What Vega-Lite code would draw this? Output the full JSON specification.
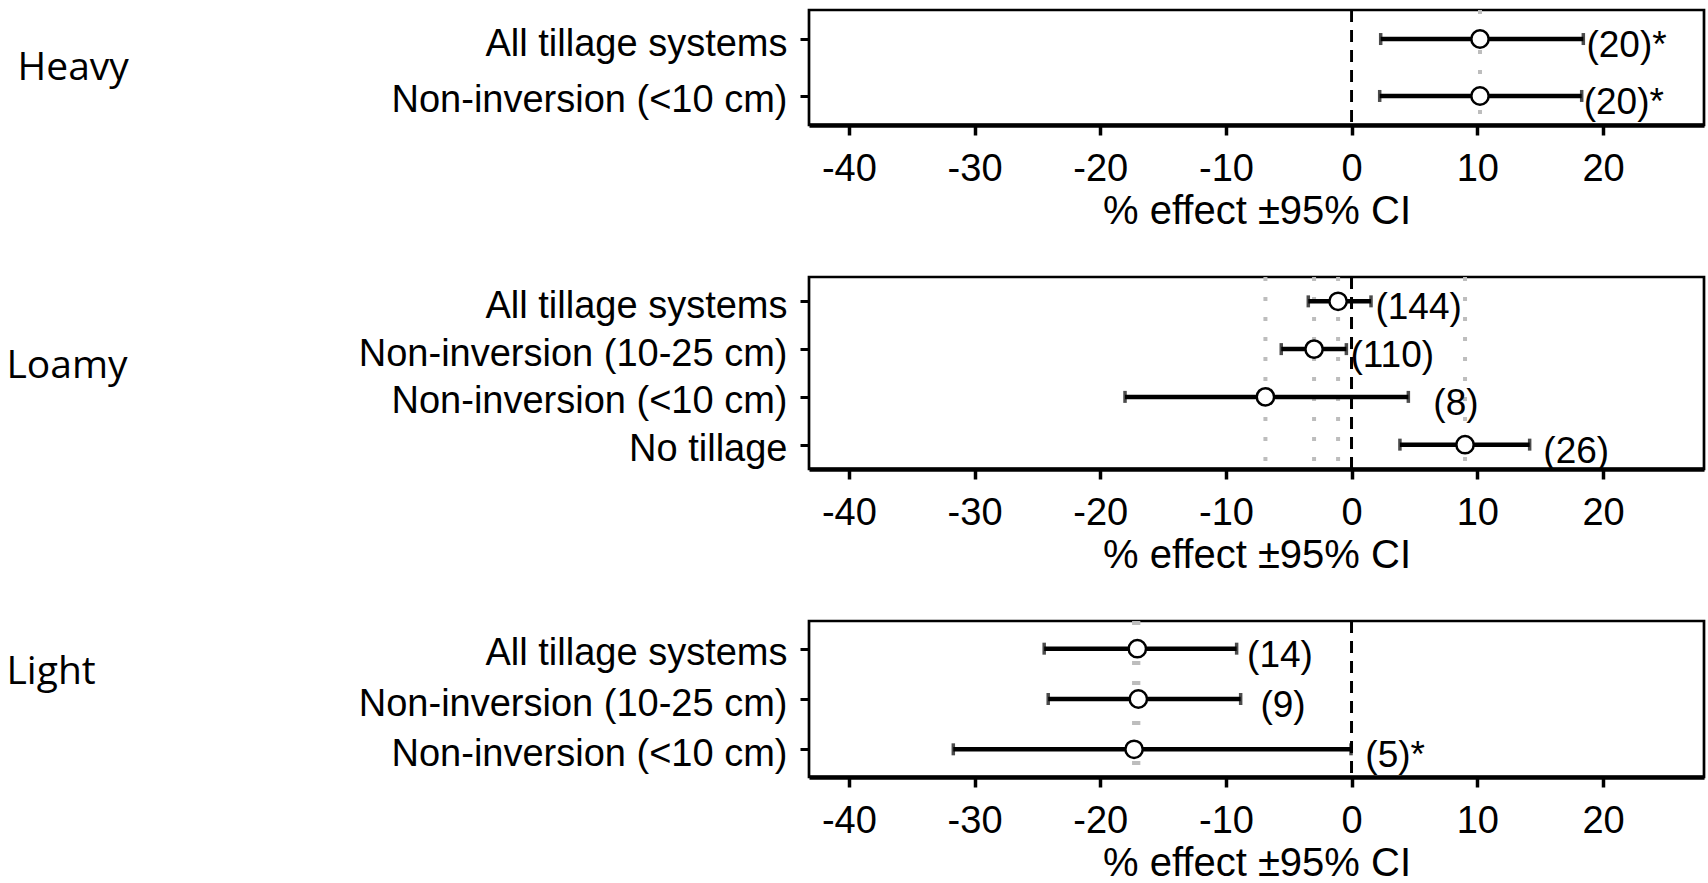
{
  "$schema": "https://vega.github.io/schema/vega-lite/v6.json",
  "background": "white",
  "padding": {"left": 4, "top": 6, "right": 0, "bottom": 0},
  "spacing": 40,
  "datasets": {
    "rows": [
      {"group": "Heavy", "system": "All tillage systems", "est": 10.21, "lo": 2.31, "hi": 18.43, "n": "(20)*", "label_x": 18.68},
      {"group": "Heavy", "system": "Non-inversion (<10 cm)", "est": 10.21, "lo": 2.23, "hi": 18.3, "n": "(20)*", "label_x": 18.46},
      {"group": "Loamy", "system": "All tillage systems", "est": -1.08, "lo": -3.45, "hi": 1.54, "n": "(144)", "label_x": 1.89},
      {"group": "Loamy", "system": "Non-inversion (10-25 cm)", "est": -2.99, "lo": -5.6, "hi": -0.42, "n": "(110)", "label_x": -0.1},
      {"group": "Loamy", "system": "Non-inversion (<10 cm)", "est": -6.86, "lo": -18.03, "hi": 4.51, "n": "(8)", "label_x": 6.5},
      {"group": "Loamy", "system": "No tillage", "est": 9.02, "lo": 3.84, "hi": 14.16, "n": "(26)", "label_x": 15.25},
      {"group": "Light", "system": "All tillage systems", "est": -17.05, "lo": -24.46, "hi": -9.15, "n": "(14)", "label_x": -8.32},
      {"group": "Light", "system": "Non-inversion (10-25 cm)", "est": -16.97, "lo": -24.14, "hi": -8.83, "n": "(9)", "label_x": -7.26},
      {"group": "Light", "system": "Non-inversion (<10 cm)", "est": -17.31, "lo": -31.69, "hi": -0.05, "n": "(5)*", "label_x": 1.09}
    ]
  },
  "config": {
    "view": {"stroke": "black", "strokeWidth": 2.7},
    "axis": {"grid": false, "labelColor": "black", "titleColor": "black", "tickColor": "black", "domainColor": "black", "labelFont": "Liberation Sans", "titleFont": "Liberation Sans", "titleFontWeight": "normal"},
    "axisX": {"labelFontSize": 38, "labelPadding": 15, "tickSize": 10, "tickWidth": 3.5, "domainWidth": 4.5, "titleFontSize": 40, "titlePadding": 3, "labelExpr": "replace(datum.label, '−', '-')"},
    "axisY": {"labelFontSize": 38, "labelPadding": 13, "tickSize": 9, "tickWidth": 3, "domain": false, "labelOffset": 5, "labelLimit": 0, "titleAngle": 0, "titleAlign": "left", "titleBaseline": "alphabetic", "titleFont": "Open Sans", "titleFontSize": 39, "titleLimit": 500}
  },
  "vconcat": [
    {
      "width": 895, "height": 115,
      "data": {"name": "rows"},
      "transform": [{"filter": "datum.group === 'Heavy'"}],
      "layer": [
        {"mark": {"type": "rule", "color": "#bdbdbd", "strokeWidth": 4, "strokeDash": [4, 16]},
         "encoding": {"x": {"field": "est", "type": "quantitative", "scale": {"domain": [-43.17, 28.03], "nice": false, "zero": false}, "axis": {"values": [-40, -30, -20, -10, 0, 10, 20], "title": "% effect ±95% CI"}}}},
        {"mark": {"type": "rule", "color": "black", "strokeWidth": 2.7, "strokeDash": [12, 8]},
         "encoding": {"x": {"datum": 0, "type": "quantitative", "scale": {"domain": [-43.17, 28.03], "nice": false, "zero": false}, "axis": {"values": [-40, -30, -20, -10, 0, 10, 20], "title": "% effect ±95% CI"}}}},
        {"mark": {"type": "rule", "color": "black", "strokeWidth": 4.5},
         "encoding": {"x": {"field": "lo", "type": "quantitative", "scale": {"domain": [-43.17, 28.03], "nice": false, "zero": false}, "axis": {"values": [-40, -30, -20, -10, 0, 10, 20], "title": "% effect ±95% CI"}}, "x2": {"field": "hi"},
           "y": {"field": "system", "type": "nominal", "sort": ["All tillage systems", "Non-inversion (<10 cm)"], "scale": {"type": "point", "padding": 0.51}, "axis": {"title": "Heavy", "titleX": -792, "titleY": 69}}}},
        {"mark": {"type": "tick", "color": "black", "size": 12, "thickness": 3.5},
         "encoding": {"x": {"field": "lo", "type": "quantitative", "scale": {"domain": [-43.17, 28.03], "nice": false, "zero": false}, "axis": {"values": [-40, -30, -20, -10, 0, 10, 20], "title": "% effect ±95% CI"}},
           "y": {"field": "system", "type": "nominal", "sort": ["All tillage systems", "Non-inversion (<10 cm)"]}}},
        {"mark": {"type": "tick", "color": "black", "size": 12, "thickness": 3.5},
         "encoding": {"x": {"field": "hi", "type": "quantitative", "scale": {"domain": [-43.17, 28.03], "nice": false, "zero": false}, "axis": {"values": [-40, -30, -20, -10, 0, 10, 20], "title": "% effect ±95% CI"}},
           "y": {"field": "system", "type": "nominal", "sort": ["All tillage systems", "Non-inversion (<10 cm)"]}}},
        {"mark": {"type": "circle", "fill": "white", "stroke": "black", "strokeWidth": 2.5, "size": 300, "opacity": 1},
         "encoding": {"x": {"field": "est", "type": "quantitative", "scale": {"domain": [-43.17, 28.03], "nice": false, "zero": false}, "axis": {"values": [-40, -30, -20, -10, 0, 10, 20], "title": "% effect ±95% CI"}},
           "y": {"field": "system", "type": "nominal", "sort": ["All tillage systems", "Non-inversion (<10 cm)"]}}},
        {"mark": {"type": "text", "align": "left", "baseline": "middle", "dy": 7, "fontSize": 37, "font": "Liberation Sans", "color": "black"},
         "encoding": {"x": {"field": "label_x", "type": "quantitative", "scale": {"domain": [-43.17, 28.03], "nice": false, "zero": false}, "axis": {"values": [-40, -30, -20, -10, 0, 10, 20], "title": "% effect ±95% CI"}},
           "y": {"field": "system", "type": "nominal", "sort": ["All tillage systems", "Non-inversion (<10 cm)"]}, "text": {"field": "n"}}}
      ]
    },
    {
      "width": 895, "height": 192,
      "data": {"name": "rows"},
      "transform": [{"filter": "datum.group === 'Loamy'"}],
      "layer": [
        {"mark": {"type": "rule", "color": "#bdbdbd", "strokeWidth": 4, "strokeDash": [4, 16]},
         "encoding": {"x": {"field": "est", "type": "quantitative", "scale": {"domain": [-43.17, 28.03], "nice": false, "zero": false}, "axis": {"values": [-40, -30, -20, -10, 0, 10, 20], "title": "% effect ±95% CI"}}}},
        {"mark": {"type": "rule", "color": "black", "strokeWidth": 2.7, "strokeDash": [12, 8]},
         "encoding": {"x": {"datum": 0, "type": "quantitative", "scale": {"domain": [-43.17, 28.03], "nice": false, "zero": false}, "axis": {"values": [-40, -30, -20, -10, 0, 10, 20], "title": "% effect ±95% CI"}}}},
        {"mark": {"type": "rule", "color": "black", "strokeWidth": 4.5},
         "encoding": {"x": {"field": "lo", "type": "quantitative", "scale": {"domain": [-43.17, 28.03], "nice": false, "zero": false}, "axis": {"values": [-40, -30, -20, -10, 0, 10, 20], "title": "% effect ±95% CI"}}, "x2": {"field": "hi"},
           "y": {"field": "system", "type": "nominal", "sort": ["All tillage systems", "Non-inversion (10-25 cm)", "Non-inversion (<10 cm)", "No tillage"], "scale": {"type": "point", "padding": 0.51}, "axis": {"title": "Loamy", "titleX": -803, "titleY": 100}}}},
        {"mark": {"type": "tick", "color": "black", "size": 12, "thickness": 3.5},
         "encoding": {"x": {"field": "lo", "type": "quantitative", "scale": {"domain": [-43.17, 28.03], "nice": false, "zero": false}, "axis": {"values": [-40, -30, -20, -10, 0, 10, 20], "title": "% effect ±95% CI"}},
           "y": {"field": "system", "type": "nominal", "sort": ["All tillage systems", "Non-inversion (10-25 cm)", "Non-inversion (<10 cm)", "No tillage"]}}},
        {"mark": {"type": "tick", "color": "black", "size": 12, "thickness": 3.5},
         "encoding": {"x": {"field": "hi", "type": "quantitative", "scale": {"domain": [-43.17, 28.03], "nice": false, "zero": false}, "axis": {"values": [-40, -30, -20, -10, 0, 10, 20], "title": "% effect ±95% CI"}},
           "y": {"field": "system", "type": "nominal", "sort": ["All tillage systems", "Non-inversion (10-25 cm)", "Non-inversion (<10 cm)", "No tillage"]}}},
        {"mark": {"type": "circle", "fill": "white", "stroke": "black", "strokeWidth": 2.5, "size": 300, "opacity": 1},
         "encoding": {"x": {"field": "est", "type": "quantitative", "scale": {"domain": [-43.17, 28.03], "nice": false, "zero": false}, "axis": {"values": [-40, -30, -20, -10, 0, 10, 20], "title": "% effect ±95% CI"}},
           "y": {"field": "system", "type": "nominal", "sort": ["All tillage systems", "Non-inversion (10-25 cm)", "Non-inversion (<10 cm)", "No tillage"]}}},
        {"mark": {"type": "text", "align": "left", "baseline": "middle", "dy": 7, "fontSize": 37, "font": "Liberation Sans", "color": "black"},
         "encoding": {"x": {"field": "label_x", "type": "quantitative", "scale": {"domain": [-43.17, 28.03], "nice": false, "zero": false}, "axis": {"values": [-40, -30, -20, -10, 0, 10, 20], "title": "% effect ±95% CI"}},
           "y": {"field": "system", "type": "nominal", "sort": ["All tillage systems", "Non-inversion (10-25 cm)", "Non-inversion (<10 cm)", "No tillage"]}, "text": {"field": "n"}}}
      ]
    },
    {
      "width": 895, "height": 156,
      "data": {"name": "rows"},
      "transform": [{"filter": "datum.group === 'Light'"}],
      "layer": [
        {"mark": {"type": "rule", "color": "#bdbdbd", "strokeWidth": 4, "strokeDash": [4, 16]},
         "encoding": {"x": {"field": "est", "type": "quantitative", "scale": {"domain": [-43.17, 28.03], "nice": false, "zero": false}, "axis": {"values": [-40, -30, -20, -10, 0, 10, 20], "title": "% effect ±95% CI"}}}},
        {"mark": {"type": "rule", "color": "black", "strokeWidth": 2.7, "strokeDash": [12, 8]},
         "encoding": {"x": {"datum": 0, "type": "quantitative", "scale": {"domain": [-43.17, 28.03], "nice": false, "zero": false}, "axis": {"values": [-40, -30, -20, -10, 0, 10, 20], "title": "% effect ±95% CI"}}}},
        {"mark": {"type": "rule", "color": "black", "strokeWidth": 4.5},
         "encoding": {"x": {"field": "lo", "type": "quantitative", "scale": {"domain": [-43.17, 28.03], "nice": false, "zero": false}, "axis": {"values": [-40, -30, -20, -10, 0, 10, 20], "title": "% effect ±95% CI"}}, "x2": {"field": "hi"},
           "y": {"field": "system", "type": "nominal", "sort": ["All tillage systems", "Non-inversion (10-25 cm)", "Non-inversion (<10 cm)"], "scale": {"type": "point", "padding": 0.55}, "axis": {"title": "Light", "titleX": -803, "titleY": 62}}}},
        {"mark": {"type": "tick", "color": "black", "size": 12, "thickness": 3.5},
         "encoding": {"x": {"field": "lo", "type": "quantitative", "scale": {"domain": [-43.17, 28.03], "nice": false, "zero": false}, "axis": {"values": [-40, -30, -20, -10, 0, 10, 20], "title": "% effect ±95% CI"}},
           "y": {"field": "system", "type": "nominal", "sort": ["All tillage systems", "Non-inversion (10-25 cm)", "Non-inversion (<10 cm)"]}}},
        {"mark": {"type": "tick", "color": "black", "size": 12, "thickness": 3.5},
         "encoding": {"x": {"field": "hi", "type": "quantitative", "scale": {"domain": [-43.17, 28.03], "nice": false, "zero": false}, "axis": {"values": [-40, -30, -20, -10, 0, 10, 20], "title": "% effect ±95% CI"}},
           "y": {"field": "system", "type": "nominal", "sort": ["All tillage systems", "Non-inversion (10-25 cm)", "Non-inversion (<10 cm)"]}}},
        {"mark": {"type": "circle", "fill": "white", "stroke": "black", "strokeWidth": 2.5, "size": 300, "opacity": 1},
         "encoding": {"x": {"field": "est", "type": "quantitative", "scale": {"domain": [-43.17, 28.03], "nice": false, "zero": false}, "axis": {"values": [-40, -30, -20, -10, 0, 10, 20], "title": "% effect ±95% CI"}},
           "y": {"field": "system", "type": "nominal", "sort": ["All tillage systems", "Non-inversion (10-25 cm)", "Non-inversion (<10 cm)"]}}},
        {"mark": {"type": "text", "align": "left", "baseline": "middle", "dy": 7, "fontSize": 37, "font": "Liberation Sans", "color": "black"},
         "encoding": {"x": {"field": "label_x", "type": "quantitative", "scale": {"domain": [-43.17, 28.03], "nice": false, "zero": false}, "axis": {"values": [-40, -30, -20, -10, 0, 10, 20], "title": "% effect ±95% CI"}},
           "y": {"field": "system", "type": "nominal", "sort": ["All tillage systems", "Non-inversion (10-25 cm)", "Non-inversion (<10 cm)"]}, "text": {"field": "n"}}}
      ]
    }
  ]
}
